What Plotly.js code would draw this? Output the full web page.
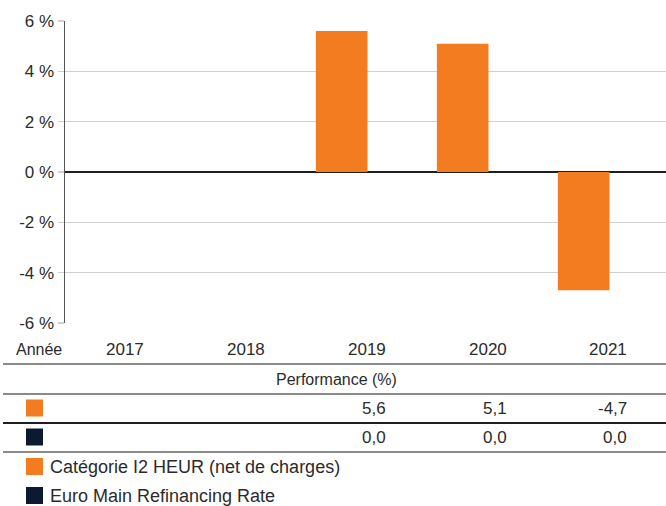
<!DOCTYPE html>
<html>
<head>
<meta charset="utf-8">
<script src="https://cdn.plot.ly/plotly-3.0.1.min.js"></script>
<style>html,body{margin:0;padding:0;background:#fff;}#chart{width:666px;height:506px;}</style>
</head>
<body>
<div id="chart"></div>
<script>
// ---- data ----
const years = ['2017', '2018', '2019', '2020', '2021'];
const fundName = 'Catégorie I2 HEUR (net de charges)';
const benchName = 'Euro Main Refinancing Rate';
const fundValues = [null, null, 5.6, 5.1, -4.7];
const benchValues = [null, null, 0.0, 0.0, 0.0];
const yTickVals = [-6, -4, -2, 0, 2, 4, 6];
const yTickText = ['-6 %', '-4 %', '-2 %', '0 %', '2 %', '4 %', '6 %'];
const rowHeaderLabel = 'Année';
const sectionLabel = 'Performance (%)';

// ---- styling ----
const ORANGE = '#F37C21';
const NAVY = '#0C1A30';
const TXT = '#2b2b2b';
const FONT = 'Liberation Sans, Arial, sans-serif';
const W = 666, H = 506, ML = 65, MR = 0, MT = 21, MB = 183;
const plotW = W - ML - MR, plotH = H - MT - MB;
const px2x = px => (px - ML) / plotW;
const py2y = py => (H - MB - py) / plotH;

const fmt = v => (v === null ? '' : v.toFixed(1).replace('.', ','));

const traces = [
  {type: 'bar', x: years, y: fundValues, name: fundName, marker: {color: ORANGE, line: {width: 0}}, hoverinfo: 'skip'},
  {type: 'bar', x: years, y: benchValues, name: benchName, marker: {color: NAVY, line: {width: 0}}, hoverinfo: 'skip'}
];

const annotations = [];
const shapes = [];
const colShift = 20;

// header row
annotations.push({xref: 'paper', yref: 'paper', x: px2x(14), y: py2y(350), xanchor: 'left', yanchor: 'middle',
  text: rowHeaderLabel, showarrow: false, font: {family: FONT, size: 16, color: TXT}});
years.forEach((yr, i) => {
  annotations.push({xref: 'x', yref: 'paper', x: i, xshift: colShift, y: py2y(350), xanchor: 'right', yanchor: 'middle',
    text: yr, showarrow: false, font: {family: FONT, size: 17, color: TXT}});
});
annotations.push({xref: 'paper', yref: 'paper', x: px2x(336.5), y: py2y(379), xanchor: 'center', yanchor: 'middle',
  text: sectionLabel, showarrow: false, font: {family: FONT, size: 16, color: TXT}});

// value rows
const rows = [{vals: fundValues, color: ORANGE, cy: 408}, {vals: benchValues, color: NAVY, cy: 437}];
rows.forEach(r => {
  shapes.push({type: 'rect', xref: 'paper', yref: 'paper', x0: px2x(26), x1: px2x(43), y0: py2y(r.cy - 8.5), y1: py2y(r.cy + 8.5),
    fillcolor: r.color, line: {width: 0}});
  r.vals.forEach((v, i) => {
    if (v === null) return;
    annotations.push({xref: 'x', yref: 'paper', x: i, xshift: colShift, y: py2y(r.cy), xanchor: 'right', yanchor: 'middle',
      text: fmt(v), showarrow: false, font: {family: FONT, size: 17, color: TXT}});
  });
});

// legend
const legendItems = [{name: fundName, color: ORANGE, cy: 466.5}, {name: benchName, color: NAVY, cy: 495.5}];
legendItems.forEach(l => {
  shapes.push({type: 'rect', xref: 'paper', yref: 'paper', x0: px2x(26), x1: px2x(43), y0: py2y(l.cy - 8.5), y1: py2y(l.cy + 8.5),
    fillcolor: l.color, line: {width: 0}});
  annotations.push({xref: 'paper', yref: 'paper', x: px2x(48), y: py2y(l.cy), xanchor: 'left', yanchor: 'middle',
    text: l.name, showarrow: false, font: {family: FONT, size: 18, color: TXT}});
});

// table lines
[{py: 364, c: '#8a8a8a'}, {py: 394, c: '#8a8a8a'}, {py: 423, c: '#1e1e1e'}, {py: 452, c: '#8a8a8a'}].forEach(l => {
  shapes.push({type: 'line', xref: 'paper', yref: 'paper', x0: px2x(3), x1: 1, y0: py2y(l.py), y1: py2y(l.py),
    line: {color: l.c, width: 1.8}});
});

const layout = {
  width: W, height: H,
  margin: {l: ML, r: MR, t: MT, b: MB, pad: 0},
  paper_bgcolor: '#fff', plot_bgcolor: '#fff',
  showlegend: false,
  barmode: 'group', bargap: 0.147, bargroupgap: 0,
  font: {family: FONT, color: TXT},
  xaxis: {type: 'category', range: [-0.5, 4.467], showticklabels: false, showgrid: false, zeroline: false,
    showline: false, ticks: '', fixedrange: true},
  yaxis: {range: [-6, 6], tickvals: yTickVals, ticktext: yTickText, showgrid: true, gridcolor: '#cfcfcf', gridwidth: 1.5,
    zeroline: true, zerolinecolor: '#1e1e1e', zerolinewidth: 2.5,
    showline: true, linecolor: '#555', linewidth: 1.5,
    ticks: 'outside', ticklen: 6, tickwidth: 1.5, tickcolor: '#cfcfcf',
    tickfont: {family: FONT, size: 17, color: TXT}, fixedrange: true},
  annotations: annotations,
  shapes: shapes
};

Plotly.newPlot('chart', traces, layout, {displayModeBar: false, staticPlot: true});
</script>
</body>
</html>
